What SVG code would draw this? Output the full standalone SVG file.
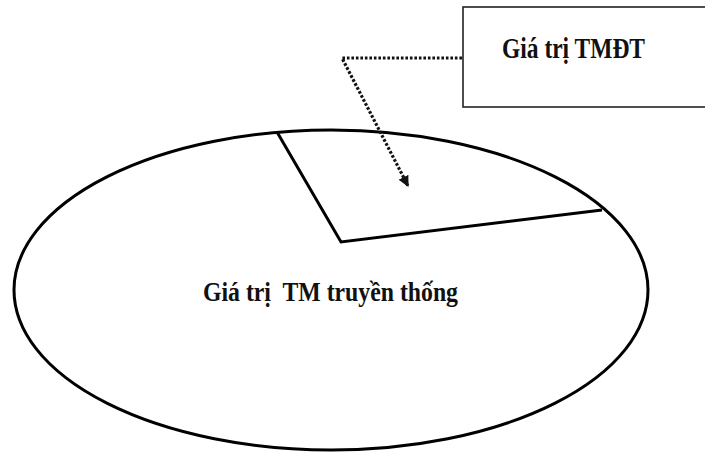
<svg xmlns="http://www.w3.org/2000/svg" width="705" height="454" viewBox="0 0 705 454">
  <defs>
    <style>
      .outline { fill: none; stroke: #000; stroke-width: 3; stroke-linejoin: miter; }
      .label { font-family: "Liberation Serif", "Times New Roman", serif; font-weight: bold; fill: #111; white-space: pre; }
      .dotted { fill: none; stroke: #111; stroke-width: 3.2; stroke-dasharray: 2.6 1.9; }
    </style>
    <marker id="arrowhead" viewBox="0 0 10 10" refX="9" refY="5" markerWidth="3.4" markerHeight="3.4" orient="auto" markerUnits="strokeWidth">
      <path d="M0,0 L10,5 L0,10 z" fill="#111"/>
    </marker>
  </defs>
  <rect width="705" height="454" fill="#fff"/>

  <!-- traditional commerce value: the whole ellipse -->
  <g id="traditional-value">
    <ellipse class="outline" cx="331" cy="290" rx="317" ry="160"/>
    <text class="label" x="203" y="301" font-size="27.5" textLength="255" lengthAdjust="spacingAndGlyphs">Giá trị  TM truyền thống</text>
  </g>

  <!-- e-commerce share: wedge cut from the ellipse -->
  <g id="ecommerce-wedge">
    <polyline class="outline" points="277,132 341,242 602,210"/>
  </g>

  <!-- e-commerce value label box -->
  <g id="ecommerce-value">
    <rect x="463" y="7" width="250" height="100" fill="#fff" stroke="#222" stroke-width="1.6"/>
    <text class="label" x="502" y="58" font-size="29.5" textLength="143" lengthAdjust="spacingAndGlyphs">Giá trị TMĐT</text>
  </g>

  <!-- dotted pointer from the box into the wedge -->
  <g id="connectors">
    <polyline class="dotted" points="462,58 342,58 408,186" marker-end="url(#arrowhead)"/>
  </g>
</svg>
